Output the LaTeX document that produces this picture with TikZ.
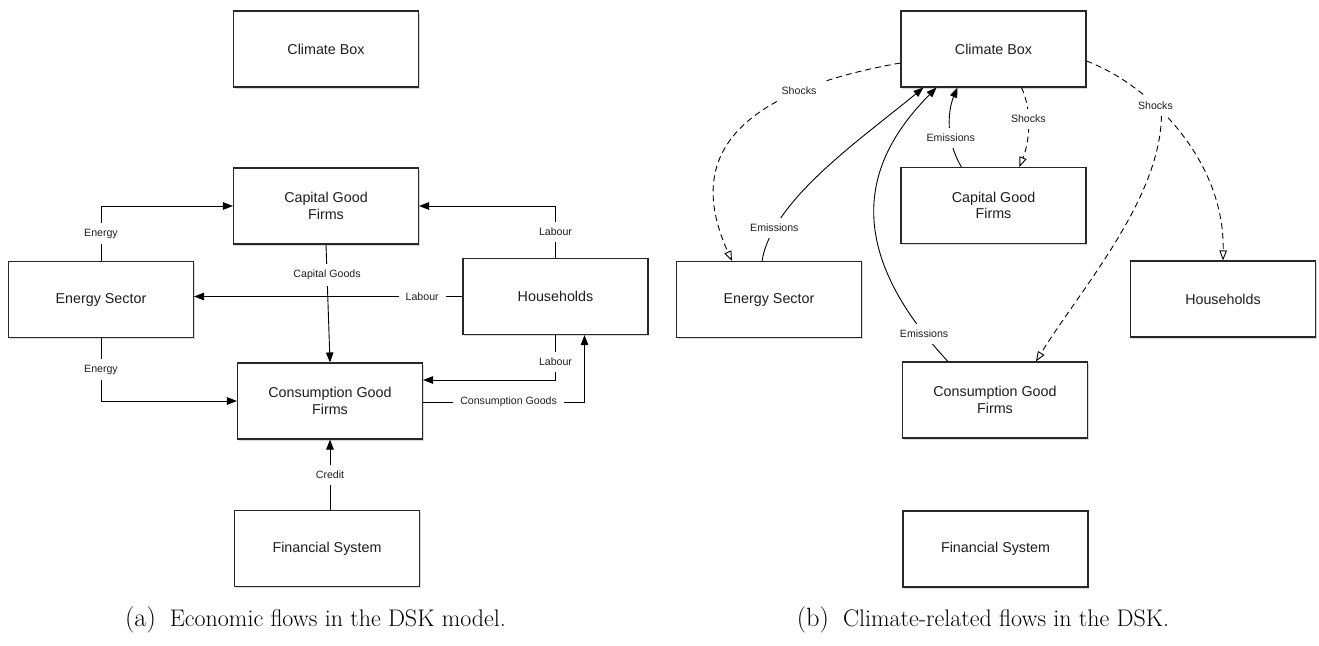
\documentclass[tikz,border=0pt]{standalone}
\usepackage{fontspec}
\setsansfont{Liberation Sans}
\usetikzlibrary{arrows.meta,calc,shadows}
\definecolor{boxgray}{RGB}{040, 040, 040}
\definecolor{txtgray}{RGB}{030, 030, 030}
\tikzset{
  box/.style={draw=boxgray,line width=1.1pt,fill=white,text=txtgray,
    minimum width=185pt,minimum height=76pt,align=center,
    font=\sffamily\fontsize{14.3}{16.5}\selectfont,
    drop shadow={shadow xshift=1pt,shadow yshift=-1.5pt,opacity=.3}},
  lbl/.style={fill=white,text=txtgray,inner xsep=7pt,inner ysep=6pt,
    font=\sffamily\fontsize{10.6}{12}\selectfont},
  flow/.style={line width=.9pt,-{Triangle[length=10pt,width=7.5pt]}},
  emis/.style={flow},
  shock/.style={line width=.9pt,dash pattern=on 6pt off 4pt,
    -{Triangle[open,length=10pt,width=7.5pt]}},
  capt/.style={anchor=base,inner sep=0pt,font=\fontsize{24}{28}\selectfont},
}
\newcommand{\subtag}[1]{{\fontsize{26.4}{30}\selectfont(#1)}\hspace{14pt}}
\begin{document}
\begin{tikzpicture}[x=1pt,y=-1pt]
  %\draw[gray,very thin] (0,0) grid[step=50] (1319,645);
  \useasboundingbox (0,0) rectangle (1319,645);
  % (a) economic flows
  \node[box] (climL) at (326,49) {Climate Box};
  \node[box] (capL) at (326,206) {Capital Good\\Firms};
  \node[box] (enL) at (101,299.5) {Energy Sector};
  \node[box] (hhL) at (555.5,296.5) {Households};
  \node[box] (consL) at (330,401) {Consumption Good\\Firms};
  \node[box] (finL) at (327,548.5) {Financial System};
  \draw[flow] (enL.north) |- node[lbl,pos=.25] {Energy} (capL.west);
  \draw[flow] (hhL.north) |- node[lbl,pos=.25] {Labour} (capL.east);
  \draw[flow] (hhL.west) -- node[lbl,pos=.15] {Labour} (hhL.west -| enL.east);
  \draw[flow] (capL.south) -- node[lbl,pos=.26] {Capital Goods} (consL.north);
  \draw[flow] (hhL.south) |- node[lbl,pos=.3] {Labour} ($(consL.east)+(0,-21)$);
  \draw[flow] ($(consL.east)+(0,1)$) -| node[lbl,pos=.265] {Consumption Goods} ($(hhL.south)+(29,0)$);
  \draw[flow] (enL.south) |- node[lbl,pos=.25] {Energy} (consL.west);
  \draw[flow] (consL.south |- finL.north) -- node[lbl] {Credit} (consL.south);
  % (b) climate-related flows
  \node[box] (climR) at (993.5,49) {Climate Box};
  \node[box] (capR) at (993.5,205.5) {Capital Good\\Firms};
  \node[box] (enR) at (769,299.5) {Energy Sector};
  \node[box] (hhR) at (1223,299) {Households};
  \node[box] (consR) at (995,400) {Consumption Good\\Firms};
  \node[box] (finR) at (995.5,549) {Financial System};
  \draw[emis] ($(enR.north)+(-7,0)$) .. controls (772,200) and (860,140) .. ($(climR.south west)+(23,0)$) node[lbl,pos=.18] {Emissions};
  \draw[emis] ($(consR.north west)+(46,0)$) .. controls (830,235) and (875,150) .. ($(climR.south west)+(36,0)$) node[lbl,pos=.075] {Emissions};
  \draw[emis] ($(capR.north west)+(61,0)$) .. controls (945,140) and (948,110) .. ($(climR.south west)+(57,0)$) node[lbl,pos=.35] {Emissions};
  \draw[shock] ($(climR.west)+(0,14)$) .. controls (690,100) and (700,190) .. ($(enR.north west)+(56,0)$) node[lbl,pos=.2] {Shocks};
  \draw[shock] ($(climR.south west)+(121,0)$) .. controls (1032,110) and (1030,140) .. ($(capR.north west)+(119,0)$) node[lbl,pos=.42] {Shocks};
  \draw[shock] ($(climR.east)+(0,12)$) .. controls (1150,85) and (1225,160) .. (hhR.north) node[lbl,pos=.36] (shk) {Shocks};
  \draw[shock] ($(shk.south)+(6,0)$) .. controls (1160,200) and (1080,290) .. ($(consR.north west)+(134,0)$);
  % captions
  \node[capt] (capa) at (315.5,626) {\subtag{a}Economic flows in the DSK model.};
  \node[capt] (capb) at (983,626) {\subtag{b}Climate-related flows in the DSK.};
\end{tikzpicture}
\end{document}
